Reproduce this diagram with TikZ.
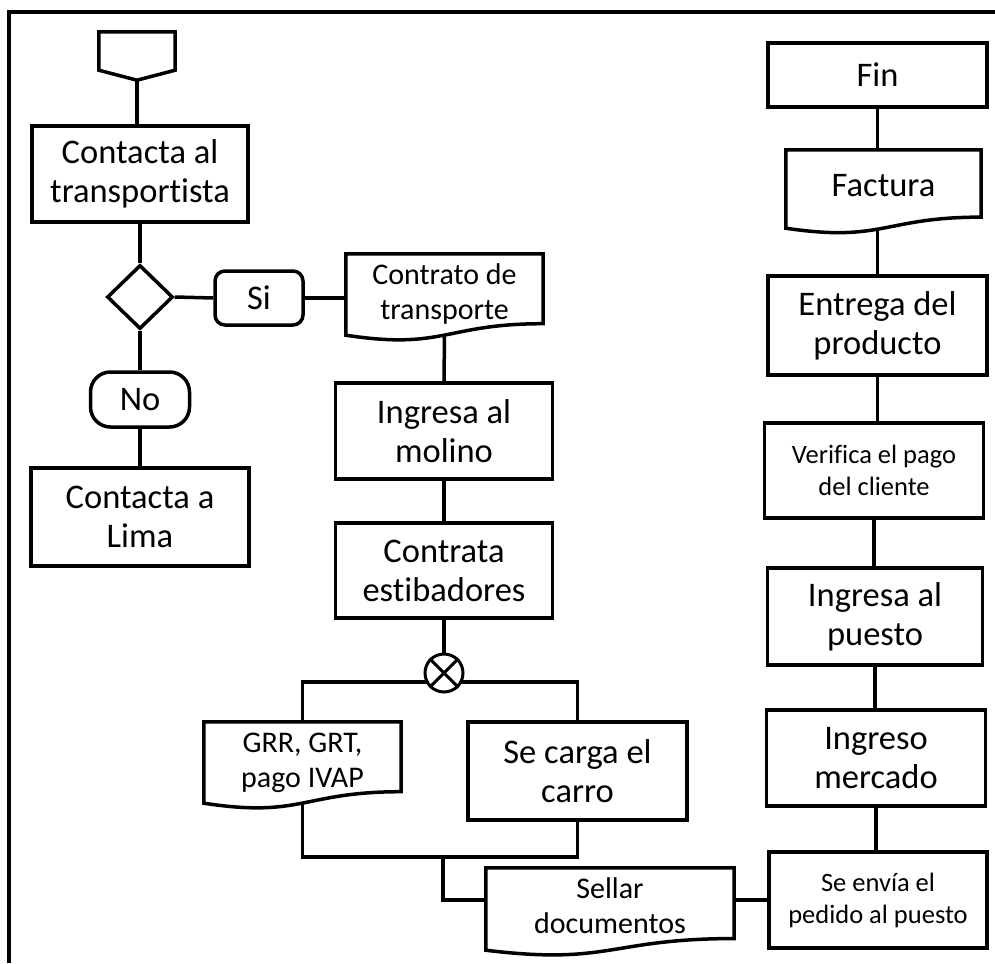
\documentclass[tikz,border=0pt]{standalone}
\usepackage{fontspec}
\setmainfont{Carlito}[Ligatures={NoCommon}]
\usetikzlibrary{shapes.geometric,calc}
\tikzset{
  ln/.style={line width=3.5pt},
  big/.style={font=\fontsize{34.5}{39}\selectfont},
  med/.style={font=\fontsize{30}{35}\selectfont},
  sml/.style={font=\fontsize{26.5}{32}\selectfont},
  proc/.style={draw, line width=3.5pt, rectangle, inner sep=0pt, align=center},
  docnode/.style={rectangle, inner sep=0pt, align=center},
  term/.style={draw, line width=3.5pt, rectangle, rounded corners=#1, inner sep=0pt, align=center},
}
\newcommand\mydocout[1]{%
  \draw[ln] (#1.north west) -- (#1.north east)
    -- ($(#1.north east)!0.8587!(#1.south east)$)
    .. controls ($(#1.north)!0.8587!(#1.south)$) and ($(#1.north)!1.1852!(#1.south)$) ..
    (#1.south west) -- cycle;}
\newcommand\uptext[1]{\raisebox{5pt}{\begin{tabular}{@{}c@{}}#1\end{tabular}}}
\begin{document}
\begin{tikzpicture}[x=1pt,y=-1pt]
\useasboundingbox (0,0) rectangle (995,963);
% frame
\draw[line width=3.5pt] (9,963) -- (9,12) -- (995,12);

% left column
\node[rectangle, inner sep=0pt, minimum width=76, minimum height=48] (start) at (137,56) {};
\draw[ln] (start.north west) -- (start.north east) -- ($(start.south east)+(0,-10)$)
  -- (start.south) -- ($(start.south west)+(0,-10)$) -- cycle;
\node[proc, big, minimum width=216, minimum height=96] (c1) at (140,174) {Contacta al\\transportista};
\node[diamond, draw, line width=3.5pt, inner sep=0pt, minimum width=66, minimum height=64] (d) at (140,297) {};
\node[term=10pt, big, minimum width=88, minimum height=54] (si) at (259,298) {Si};
\node[docnode, med, minimum width=197, minimum height=81] (contrato) at (444.5,294.5) {\uptext{Contrato de\\transporte}};
\mydocout{contrato}
\node[term=20pt, big, minimum width=99, minimum height=55] (no) at (140,399.5) {No};
\node[proc, big, minimum width=218, minimum height=98] (lima) at (140,517) {Contacta a\\Lima};

% middle column
\node[proc, big, minimum width=217, minimum height=96] (molino) at (444,431) {Ingresa al\\molino};
\node[proc, big, minimum width=217, minimum height=95] (estib) at (444,570.5) {Contrata\\estibadores};
\coordinate (jl) at (302.5,682);
\coordinate (jr) at (577.5,682);
\node[docnode, med, minimum width=197, minimum height=81] (grr) at (302.5,762.5) {\uptext{GRR, GRT,\\pago IVAP}};
\mydocout{grr}
\node[proc, big, minimum width=219, minimum height=98] (carga) at (577.5,771) {Se carga el\\carro};
\draw[ln] (grr.north) -- (jl) -- (jr) -- (carga.north);
\node[circle, draw, fill=white, line width=3pt, inner sep=0pt, minimum size=38] (cx) at (444,673) {};
\draw[line width=3pt] (cx.north east) -- (cx.south west) (cx.north west) -- (cx.south east);
\coordinate (bl) at (302.5,857);
\coordinate (br) at (577.5,857);
\coordinate (bm) at (443,857);
\node[docnode, med, minimum width=248, minimum height=82] (sellar) at (610,909) {\uptext{Sellar\\documentos}};
\mydocout{sellar}

% right column
\node[proc, big, minimum width=219, minimum height=64] (fin) at (877.5,75) {Fin};
\node[docnode, big, minimum width=195, minimum height=78] (factura) at (883.5,189) {\uptext{Factura}};
\mydocout{factura}
\node[proc, big, minimum width=219, minimum height=99] (entrega) at (877.5,325.5) {Entrega del\\producto};
\node[proc, sml, minimum width=219, minimum height=95] (verifica) at (874,470.5) {Verifica el pago\\del cliente};
\node[proc, big, minimum width=215, minimum height=97] (puesto) at (875,616.5) {Ingresa al\\puesto};
\node[proc, big, minimum width=219, minimum height=96] (mercado) at (876,758) {Ingreso\\mercado};
\node[proc, sml, minimum width=218, minimum height=96] (envia) at (878,900) {Se envía el\\pedido al puesto};

% connectors
\draw[ln] (start.south) -- (start.south |- c1.north);
\draw[ln] (c1.south) -- (d.north);
\draw[ln] (d.east) -- (si.west);
\draw[ln] (si.east) -- (si.east -| contrato.west);
\draw[ln] (d.south) -- (no.north);
\draw[ln] (no.south) -- (lima.north);
\draw[ln] (contrato.south) -- (molino.north);
\draw[ln] (molino.south) -- (estib.north);
\draw[ln] (estib.south) -- (cx.north);
\draw[ln] (grr.south) -- (bl) -- (br) -- (carga.south);
\draw[ln] (bm) |- (sellar.west |- envia.west);
\draw[ln] (sellar.east |- envia.west) -- (envia.west);
\draw[ln] (fin.south) -- (fin.south |- factura.north);
\draw[ln] (fin.south |- factura.south) -- (entrega.north -| fin.south);
\draw[ln] (entrega.south) -- (verifica.north -| entrega.south);
\draw[ln] (verifica.south) -- (puesto.north -| verifica.south);
\draw[ln] (puesto.south) -- (mercado.north -| puesto.south);
\draw[ln] (mercado.south) -- (envia.north -| mercado.south);
\end{tikzpicture}
\end{document}
